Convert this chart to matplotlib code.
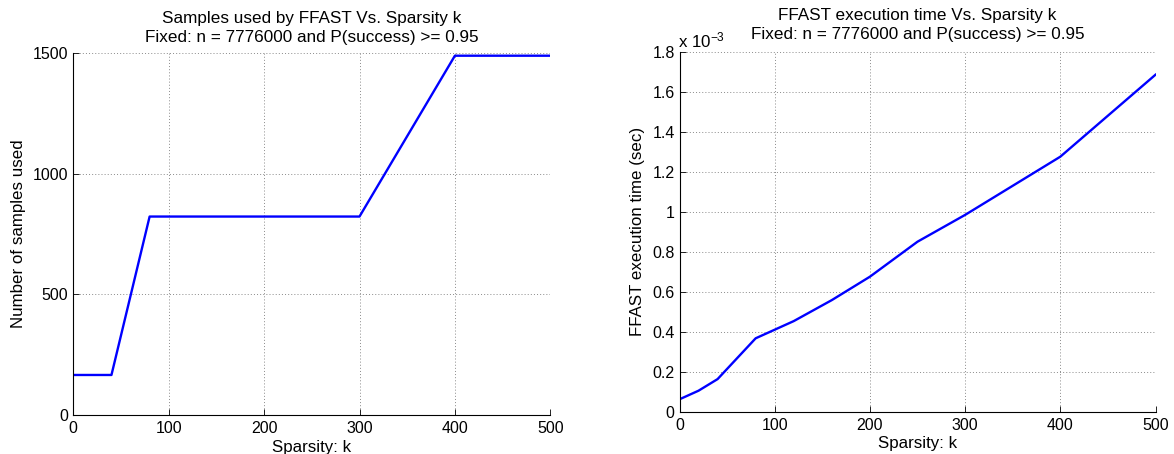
import matplotlib
matplotlib.use("Agg")
import matplotlib.pyplot as plt
from matplotlib.ticker import FuncFormatter

plt.rcParams['font.family'] = ['Liberation Sans', 'DejaVu Sans']
plt.rcParams['mathtext.fontset'] = 'custom'
plt.rcParams['mathtext.rm'] = 'Liberation Sans'
plt.rcParams['mathtext.it'] = 'Liberation Sans:italic'

# Samples used vs. sparsity
k_samples = [0, 40, 80, 300, 400, 500]
samples_used = [166, 166, 823, 823, 1490, 1490]

# Execution time vs. sparsity (seconds)
k_time = [0, 20, 40, 80, 120, 160, 200, 250, 300, 400, 500]
exec_time = [0.062e-3, 0.105e-3, 0.163e-3, 0.367e-3, 0.453e-3, 0.558e-3,
             0.675e-3, 0.85e-3, 0.984e-3, 1.275e-3, 1.685e-3]

x_ticks = [0, 100, 200, 300, 400, 500]
samples_ticks = [0, 500, 1000, 1500]
time_ticks = [0, 0.2e-3, 0.4e-3, 0.6e-3, 0.8e-3, 1.0e-3, 1.2e-3, 1.4e-3, 1.6e-3, 1.8e-3]

TICK_FS = 11.5
LABEL_FS = 12.2
TITLE_FS = 12.3

W, H = 1174, 454
fig = plt.figure(figsize=(W / 100, H / 100), dpi=100)


def style_axes(ax):
    ax.spines['top'].set_visible(False)
    ax.spines['right'].set_visible(False)
    ax.spines['left'].set_linewidth(0.8)
    ax.spines['bottom'].set_linewidth(0.8)
    ax.tick_params(direction='in', length=4, width=0.6, labelsize=TICK_FS)
    ax.tick_params(axis='x', pad=4.5)
    ax.tick_params(axis='y', pad=3.5)
    ax.grid(True, linestyle=(0, (1, 2.2)), color='#8a8a8a', linewidth=0.7)
    ax.set_axisbelow(True)


ax1 = fig.add_axes([73.3 / W, 1 - 415 / H, 477 / W, 361.7 / H])
ax1.plot(k_samples, samples_used, color='#0000ff', linewidth=1.7)
ax1.set_xlim(0, 500)
ax1.set_ylim(0, 1500)
ax1.set_xticks(x_ticks)
ax1.set_yticks(samples_ticks)
style_axes(ax1)
ax1.set_xlabel('Sparsity: k', fontsize=LABEL_FS, labelpad=2.5)
ax1.set_ylabel('Number of samples used', fontsize=LABEL_FS, labelpad=5)
ax1.set_title('Samples used by FFAST Vs. Sparsity k\nFixed: n = 7776000 and P(success) >= 0.95',
              fontsize=TITLE_FS, pad=8, linespacing=1.32)

ax2 = fig.add_axes([679.5 / W, 1 - 411.7 / H, 476 / W, 360 / H])
ax2.plot(k_time, exec_time, color='#0000ff', linewidth=1.7)
ax2.set_xlim(0, 500)
ax2.set_ylim(0, 1.8e-3)
ax2.set_xticks(x_ticks)
ax2.set_yticks(time_ticks)
ax2.yaxis.set_major_formatter(FuncFormatter(lambda v, p: '%g' % round(v / 1e-3, 6)))
style_axes(ax2)
ax2.set_xlabel('Sparsity: k', fontsize=LABEL_FS, labelpad=2)
ax2.set_ylabel('FFAST execution time (sec)', fontsize=LABEL_FS, labelpad=5)
ax2.set_title('FFAST execution time Vs. Sparsity k\nFixed: n = 7776000 and P(success) >= 0.95',
              fontsize=TITLE_FS, pad=9, linespacing=1.32)
ax2.text(-0.003, 1.012, r'x 10$^{-3}$', transform=ax2.transAxes, fontsize=12.2,
         ha='left', va='baseline')

fig.savefig('out.png', dpi=100)
